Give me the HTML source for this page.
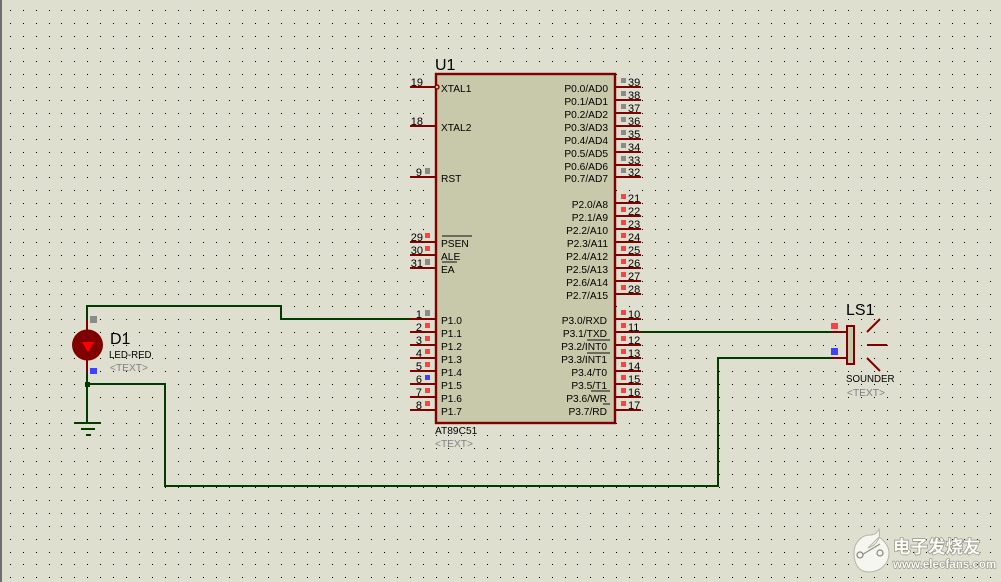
<!DOCTYPE html>
<html><head><meta charset="utf-8"><style>
html,body{margin:0;padding:0;background:#dfdfd0}
svg{display:block}
text{font-family:"Liberation Sans","Noto Sans CJK SC",sans-serif;font-size:10.2px;fill:#000}
.n{font-size:11px}
.l{text-anchor:end}
.b{font-size:16px}
.s{font-size:9.7px}
.g{fill:#808080}
.w{fill:#fbfbf6;stroke:#8f8f84;paint-order:stroke;font-weight:bold}
</style></head><body>
<svg width="1001" height="582" viewBox="0 0 1001 582" xmlns="http://www.w3.org/2000/svg">
<defs><pattern id="d" x="10" y="10" width="129" height="129" patternUnits="userSpaceOnUse">
<path shape-rendering="crispEdges" stroke="#000" stroke-width="1" fill="none" d="M0 .5h1m12 0h1m12 0h1m12 0h1m11 0h1m12 0h1m12 0h1m12 0h1m12 0h1m12 0h1M0 13.5h1m12 0h1m12 0h1m12 0h1m11 0h1m12 0h1m12 0h1m12 0h1m12 0h1m12 0h1M0 26.5h1m12 0h1m12 0h1m12 0h1m11 0h1m12 0h1m12 0h1m12 0h1m12 0h1m12 0h1M0 38.5h1m12 0h1m12 0h1m12 0h1m11 0h1m12 0h1m12 0h1m12 0h1m12 0h1m12 0h1M0 51.5h1m12 0h1m12 0h1m12 0h1m11 0h1m12 0h1m12 0h1m12 0h1m12 0h1m12 0h1M0 64.5h1m12 0h1m12 0h1m12 0h1m11 0h1m12 0h1m12 0h1m12 0h1m12 0h1m12 0h1M0 77.5h1m12 0h1m12 0h1m12 0h1m11 0h1m12 0h1m12 0h1m12 0h1m12 0h1m12 0h1M0 90.5h1m12 0h1m12 0h1m12 0h1m11 0h1m12 0h1m12 0h1m12 0h1m12 0h1m12 0h1M0 103.5h1m12 0h1m12 0h1m12 0h1m11 0h1m12 0h1m12 0h1m12 0h1m12 0h1m12 0h1M0 116.5h1m12 0h1m12 0h1m12 0h1m11 0h1m12 0h1m12 0h1m12 0h1m12 0h1m12 0h1"/>
</pattern></defs>
<rect width="1001" height="582" fill="#dfdfd0"/>
<rect width="1001" height="582" fill="url(#d)"/>
<rect x="0" y="0" width="2" height="582" fill="#6e6e6e"/>

<!-- watermark -->
<g>
<path d="M879 529C881 538 877 545 868 548L879 537C885 541 889 547 889 553C889 564 880 572 869 572C858 572 854 563 854 553C854 542 862 535 870 535C875 535 878 532 879 529Z" fill="#f6f6f0" stroke="#b5b5a8" stroke-width="1"/>
<path d="M860 556L880 544" stroke="#8e8e84" stroke-width="1.2" fill="none"/>
<circle cx="860" cy="555" r="3" fill="#f6f6f0" stroke="#85857c" stroke-width="1.2"/>
<circle cx="880" cy="553" r="3" fill="#f6f6f0" stroke="#85857c" stroke-width="1.2"/>
<text class="w" x="893" y="553" style="font-size:17.5px;stroke-width:1.4">电子发烧友</text>
<text class="w" x="893" y="568" style="font-size:11.6px;stroke-width:1.2">www.elecfans.com</text>
</g>

<!-- green wires -->
<g fill="none" stroke="#003c00" stroke-width="2" shape-rendering="crispEdges">
<path d="M87 320V306H281V319H410"/>
<path d="M87 372V422"/>
<path d="M87 384H165V486H718V358H832"/>
<path d="M641 332H832"/>
<path d="M74 423H101M81 429H95M86 435H91"/>
</g>
<rect x="85" y="382" width="5" height="5" fill="#003c00"/>

<!-- IC -->
<rect x="436" y="74" width="179" height="349" fill="#c8c8aa" stroke="#800000" stroke-width="2.4"/>
<g fill="none" stroke="#800000" stroke-width="2" shape-rendering="crispEdges">
<path d="M410 87H436M410 126H436M410 177H436M410 242H436M410 255H436M410 268H436M410 319H436M410 332H436M410 345H436M410 358H436M410 371H436M410 384H436M410 397H436M410 410H436"/>
<path d="M615 87H641M615 100H641M615 113H641M615 126H641M615 139H641M615 152H641M615 165H641M615 177H641"/>
<path d="M615 203H641M615 216H641M615 229H641M615 242H641M615 255H641M615 268H641M615 281H641M615 294H641"/>
<path d="M615 319H641M615 332H641M615 345H641M615 358H641M615 371H641M615 384H641M615 397H641M615 410H641"/>
</g>
<circle cx="437" cy="87" r="2" fill="#c8c8aa" stroke="#800000" stroke-width="1.4"/>
<path d="M442 236H472M442 262H457M587 340H610M587 353H610M591 391H610M603 404H610" stroke="#111" stroke-width="1" fill="none" shape-rendering="crispEdges"/>

<!-- pin squares -->
<g shape-rendering="crispEdges">
<g fill="#8a8a8a">
<rect x="425" y="168" width="5" height="6"/><rect x="425" y="259" width="5" height="6"/><rect x="425" y="310" width="5" height="6"/>
<rect x="621" y="78" width="5" height="5"/><rect x="621" y="91" width="5" height="5"/><rect x="621" y="104" width="5" height="5"/><rect x="621" y="117" width="5" height="5"/><rect x="621" y="130" width="5" height="5"/><rect x="621" y="143" width="5" height="5"/><rect x="621" y="156" width="5" height="5"/><rect x="621" y="168" width="5" height="5"/>
</g>
<g fill="#ff4040">
<rect x="425" y="233" width="5" height="5"/><rect x="425" y="246" width="5" height="5"/><rect x="425" y="323" width="5" height="5"/><rect x="425" y="336" width="5" height="5"/><rect x="425" y="349" width="5" height="5"/><rect x="425" y="362" width="5" height="5"/><rect x="425" y="388" width="5" height="5"/><rect x="425" y="401" width="5" height="5"/>
<rect x="621" y="194" width="5" height="5"/><rect x="621" y="207" width="5" height="5"/><rect x="621" y="220" width="5" height="5"/><rect x="621" y="233" width="5" height="5"/><rect x="621" y="246" width="5" height="5"/><rect x="621" y="259" width="5" height="5"/><rect x="621" y="272" width="5" height="5"/><rect x="621" y="285" width="5" height="5"/>
<rect x="621" y="310" width="5" height="5"/><rect x="621" y="323" width="5" height="5"/><rect x="621" y="336" width="5" height="5"/><rect x="621" y="349" width="5" height="5"/><rect x="621" y="362" width="5" height="5"/><rect x="621" y="375" width="5" height="5"/><rect x="621" y="388" width="5" height="5"/><rect x="621" y="401" width="5" height="5"/>
<rect x="831" y="323" width="7" height="6"/>
</g>
<rect x="425" y="375" width="5" height="5" fill="#4040ff"/>
<rect x="831" y="348" width="7" height="7" fill="#4040ff"/>
<rect x="90" y="316" width="7" height="7" fill="#8a8a8a"/>
<rect x="90" y="368" width="7" height="6" fill="#4040ff"/>
</g>

<!-- LED -->
<path d="M87 320V332M87 358V372" stroke="#800000" stroke-width="2" shape-rendering="crispEdges"/>
<circle cx="87.5" cy="345" r="15.5" fill="#800000"/>
<path d="M82 342H94L88 352Z" fill="#f00"/>

<!-- sounder -->
<rect x="847" y="326" width="7" height="38" fill="#c8c8aa" stroke="#800000" stroke-width="2"/>
<path d="M832 332H847M832 358H847" stroke="#800000" stroke-width="2" shape-rendering="crispEdges"/>
<path d="M867 332L880 319M867 345H887M867 358L880 371" stroke="#800000" stroke-width="2" fill="none"/>

<!-- labels -->
<text class="b" x="435" y="70">U1</text>
<text class="b" x="110" y="344">D1</text>
<text class="b" x="846" y="315">LS1</text>
<text class="s" x="109" y="358">LED-RED</text>
<text class="g" x="110" y="371">&lt;TEXT&gt;</text>
<text class="s" x="846" y="382">SOUNDER</text>
<text class="g" x="847" y="396">&lt;TEXT&gt;</text>
<text x="435" y="434">AT89C51</text>
<text class="g" x="435" y="447">&lt;TEXT&gt;</text>

<text x="441" y="92">XTAL1</text><text x="441" y="131">XTAL2</text><text x="441" y="182">RST</text>
<text x="441" y="247">PSEN</text><text x="441" y="260">ALE</text><text x="441" y="273">EA</text>
<text x="441" y="324">P1.0</text><text x="441" y="337">P1.1</text><text x="441" y="350">P1.2</text><text x="441" y="363">P1.3</text><text x="441" y="376">P1.4</text><text x="441" y="389">P1.5</text><text x="441" y="402">P1.6</text><text x="441" y="415">P1.7</text>

<g>
<text class="l" x="608" y="92">P0.0/AD0</text><text class="l" x="608" y="105">P0.1/AD1</text><text class="l" x="608" y="118">P0.2/AD2</text><text class="l" x="608" y="131">P0.3/AD3</text><text class="l" x="608" y="144">P0.4/AD4</text><text class="l" x="608" y="157">P0.5/AD5</text><text class="l" x="608" y="170">P0.6/AD6</text><text class="l" x="608" y="182">P0.7/AD7</text>
<text class="l" x="608" y="208">P2.0/A8</text><text class="l" x="608" y="221">P2.1/A9</text><text class="l" x="608" y="234">P2.2/A10</text><text class="l" x="608" y="247">P2.3/A11</text><text class="l" x="608" y="260">P2.4/A12</text><text class="l" x="608" y="273">P2.5/A13</text><text class="l" x="608" y="286">P2.6/A14</text><text class="l" x="608" y="299">P2.7/A15</text>
<text class="l" x="607" y="324">P3.0/RXD</text><text class="l" x="607" y="337">P3.1/TXD</text><text class="l" x="607" y="350">P3.2/INT0</text><text class="l" x="607" y="363">P3.3/INT1</text><text class="l" x="607" y="376">P3.4/T0</text><text class="l" x="607" y="389">P3.5/T1</text><text class="l" x="607" y="402">P3.6/WR</text><text class="l" x="607" y="415">P3.7/RD</text>
</g>

<text class="n l" x="423" y="86">19</text><text class="n l" x="423" y="125">18</text><text class="n l" x="422" y="176">9</text>
<text class="n l" x="423" y="241">29</text><text class="n l" x="423" y="254">30</text><text class="n l" x="423" y="267">31</text>
<text class="n l" x="422" y="318">1</text><text class="n l" x="422" y="331">2</text><text class="n l" x="422" y="344">3</text><text class="n l" x="422" y="357">4</text><text class="n l" x="422" y="370">5</text><text class="n l" x="422" y="383">6</text><text class="n l" x="422" y="396">7</text><text class="n l" x="422" y="409">8</text>

<text class="n" x="628" y="86">39</text><text class="n" x="628" y="99">38</text><text class="n" x="628" y="112">37</text><text class="n" x="628" y="125">36</text><text class="n" x="628" y="138">35</text><text class="n" x="628" y="151">34</text><text class="n" x="628" y="164">33</text><text class="n" x="628" y="176">32</text>
<text class="n" x="628" y="202">21</text><text class="n" x="628" y="215">22</text><text class="n" x="628" y="228">23</text><text class="n" x="628" y="241">24</text><text class="n" x="628" y="254">25</text><text class="n" x="628" y="267">26</text><text class="n" x="628" y="280">27</text><text class="n" x="628" y="293">28</text>
<text class="n" x="628" y="318">10</text><text class="n" x="628" y="331">11</text><text class="n" x="628" y="344">12</text><text class="n" x="628" y="357">13</text><text class="n" x="628" y="370">14</text><text class="n" x="628" y="383">15</text><text class="n" x="628" y="396">16</text><text class="n" x="628" y="409">17</text>
</svg>
</body></html>
